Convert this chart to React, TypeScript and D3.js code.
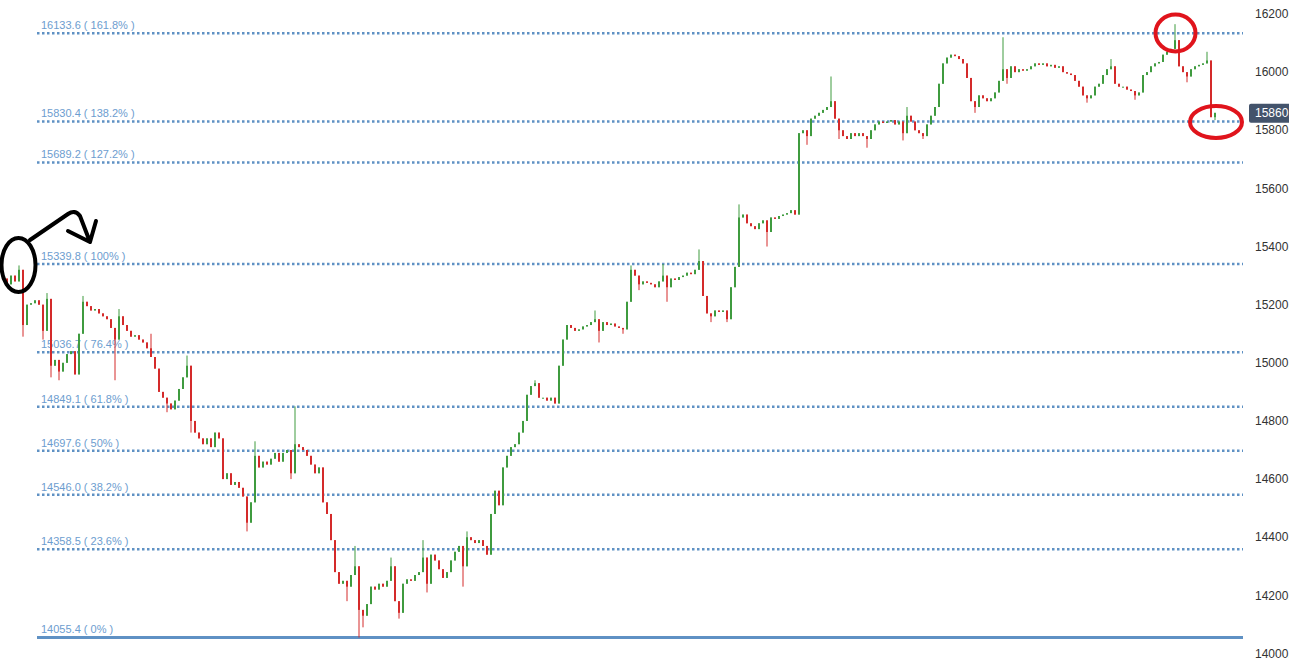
import * as d3 from 'd3';

// closing prices, one per candle, left to right
const closes = [
  15290, 15270, 15300, 15280, 15320, 15130, 15200, 15205, 15215, 15200,
  15110, 15220, 14990, 15010, 14970, 15000, 15030, 15040, 14960, 15100,
  15210, 15195, 15180, 15185, 15170, 15160, 15150, 15120, 15080, 15160,
  15130, 15110, 15090, 15095, 15080, 15070, 15050, 15020, 14980, 14900,
  14880, 14860, 14840, 14870, 14910, 14950, 14990, 14800, 14760, 14740,
  14720, 14740, 14710, 14760, 14740, 14600, 14620, 14580, 14590, 14570,
  14540, 14450, 14520, 14680, 14640, 14660, 14650, 14670, 14690, 14660,
  14690, 14700, 14620, 14720, 14710, 14700, 14680, 14650, 14620, 14640,
  14520, 14480, 14390, 14280, 14240, 14250, 14230, 14270, 14300, 14150,
  14130, 14170, 14230, 14220, 14240, 14230, 14250, 14300, 14180, 14140,
  14240, 14255, 14250, 14270, 14280, 14330, 14240, 14340, 14320, 14290,
  14260, 14280, 14320, 14350, 14370, 14300, 14400, 14390, 14380, 14390,
  14370, 14340, 14480, 14560, 14510, 14640, 14680, 14710, 14720, 14760,
  14800, 14890, 14920, 14930, 14880, 14880, 14870, 14880, 14860, 14990,
  15080, 15130, 15120, 15110, 15115, 15125, 15130, 15140, 15150, 15110,
  15140, 15130, 15135, 15125, 15120, 15115, 15210, 15320, 15300, 15270,
  15280, 15275, 15270, 15260, 15280, 15300, 15260, 15290, 15285, 15295,
  15300, 15310, 15305, 15320, 15350, 15230, 15170, 15160, 15180, 15175,
  15180, 15150, 15260, 15330, 15500, 15510, 15480, 15470, 15460, 15480,
  15490, 15450, 15500, 15495, 15505, 15510, 15515, 15525, 15510, 15790,
  15800, 15780, 15840, 15850, 15860, 15870, 15880, 15900, 15840, 15800,
  15780, 15770, 15790, 15780, 15790, 15780, 15770, 15800, 15820, 15830,
  15825, 15830, 15835, 15820, 15830, 15790, 15850, 15830, 15800, 15790,
  15780, 15820, 15850, 15880, 15960, 16030, 16050, 16060, 16055, 16045,
  16030, 15980, 15900, 15880, 15920, 15910, 15900, 15910, 15930, 15970,
  16010, 15980, 16020, 16000, 16010, 16005, 16010, 16020, 16030, 16025,
  16030, 16020, 16025, 16015, 16020, 16000, 15995, 15990, 15970, 15950,
  15920, 15910, 15920, 15950, 15960, 15990, 16010, 16020, 15960, 15950,
  15950, 15940, 15935, 15920, 15930, 15990, 16000, 16020, 16030, 16035,
  16060, 16070, 16080, 16110, 16020, 16000, 15985, 16010, 16020, 16025,
  16030, 16040, 15845, 15860,
];
const firstOpen = 15300;

// wick extremes that stick out of the body: [candle index, price]
const highWicks = [
  [4, 15335], [11, 15240], [20, 15230], [29, 15185], [37, 15100], [46, 15025],
  [63, 14730], [73, 14850], [88, 14370], [97, 14330], [105, 14390], [116, 14420],
  [133, 14940], [148, 15180], [157, 15335], [165, 15340], [174, 15390], [184, 15545],
  [207, 15985], [226, 15880], [250, 16120], [277, 16045], [293, 16165], [301, 16070],
];
const lowWicks = [
  [5, 15090], [10, 15080], [12, 14950], [14, 14940], [28, 14940], [41, 14830],
  [47, 14760], [61, 14420], [72, 14600], [86, 14180], [89, 14055], [90, 14090],
  [99, 14120], [106, 14210], [115, 14230], [149, 15070], [155, 15100], [159, 15250],
  [166, 15210], [177, 15140], [181, 15140], [191, 15400], [201, 15750], [209, 15770],
  [216, 15740], [225, 15765], [230, 15770], [243, 15860], [251, 15960], [271, 15895],
  [283, 15905], [296, 15965], [303, 15835],
];

const fibPrices = [16133.6, 15830.4, 15689.2, 15339.8, 15036.7, 14849.1, 14697.6, 14546.0, 14358.5, 14055.4];
const fibRatios = ['161.8%', '138.2%', '127.2%', '100%', '76.4%', '61.8%', '50%', '38.2%', '23.6%', '0%'];
const axisTicks = [14000, 14200, 14400, 14600, 14800, 15000, 15200, 15400, 15600, 15800, 16000, 16200];
const lastPrice = 15860;

const W = 1289;
const H = 671;
const UP = '#3f9b3f';
const DOWN = '#d42a2a';
const FIB = '#5f91c4';

export default function App() {
  const x = d3.scaleLinear().domain([0, closes.length - 1]).range([3, 1215]);
  const y = d3.scaleLinear().domain([14000, 16200]).range([653.5, 14]);

  const hi = new Map(highWicks.map(([i, v]) => [i, v]));
  const lo = new Map(lowWicks.map(([i, v]) => [i, v]));
  const candles = closes.map((c, i) => {
    const o = i === 0 ? firstOpen : closes[i - 1];
    return {
      i,
      o,
      c,
      h: hi.get(i) ?? Math.max(o, c),
      l: lo.get(i) ?? Math.min(o, c),
    };
  });

  const font = '"Liberation Sans", Arial, sans-serif';

  return (
    <svg
      width={W}
      height={H}
      style={{ position: 'absolute', left: 0, top: 0, background: '#fff' }}
      fontFamily={font}
    >
      {/* fibonacci levels */}
      {fibPrices.map((p, k) => {
        const solid = fibRatios[k] === '0%';
        return (
          <g key={p}>
            <line
              x1={37}
              x2={1243}
              y1={y(p)}
              y2={y(p)}
              stroke={FIB}
              strokeWidth={solid ? 3 : 2.5}
              strokeDasharray={solid ? undefined : '2.5,2.5'}
            />
            <text x={41} y={y(p) - 4} fontSize={11} fill="#6d9dcf">
              {`${p.toFixed(1)} ( ${fibRatios[k]} )`}
            </text>
          </g>
        );
      })}

      {/* candles */}
      {candles.map((d) => {
        const col = d.c >= d.o ? UP : DOWN;
        const top = y(Math.max(d.o, d.c));
        const bh = Math.max(1, y(Math.min(d.o, d.c)) - top);
        return (
          <g key={d.i}>
            <line x1={x(d.i)} x2={x(d.i)} y1={y(d.h)} y2={y(d.l)} stroke={col} strokeWidth={1} />
            <rect x={x(d.i) - 1} y={top} width={2} height={bh} fill={col} />
          </g>
        );
      })}

      {/* right axis */}
      {axisTicks.map((t) => (
        <text key={t} x={1255} y={y(t)} dy="0.35em" fontSize={12} fill="#333">
          {t.toFixed(1)}
        </text>
      ))}
      <rect x={1249} y={y(lastPrice) - 9} width={45} height={19} rx={2} fill="#43536b" />
      <text x={1255} y={y(lastPrice)} dy="0.36em" fontSize={12} fill="#fff">
        {lastPrice.toFixed(1)}
      </text>

      {/* hand drawn annotations */}
      <ellipse cx={18.5} cy={265} rx={17} ry={27} fill="none" stroke="#000" strokeWidth={4} />
      <path
        d="M30,240 L68,214 Q75,209 80,216 L90,242 M68,231 L90,242 L96,221"
        fill="none"
        stroke="#000"
        strokeWidth={4}
        strokeLinecap="round"
        strokeLinejoin="round"
      />
      <ellipse cx={1175.5} cy={33} rx={20} ry={18.5} fill="none" stroke="#e0141c" strokeWidth={4} />
      <ellipse cx={1216} cy={122} rx={26} ry={16} fill="none" stroke="#e0141c" strokeWidth={4} />
    </svg>
  );
}
